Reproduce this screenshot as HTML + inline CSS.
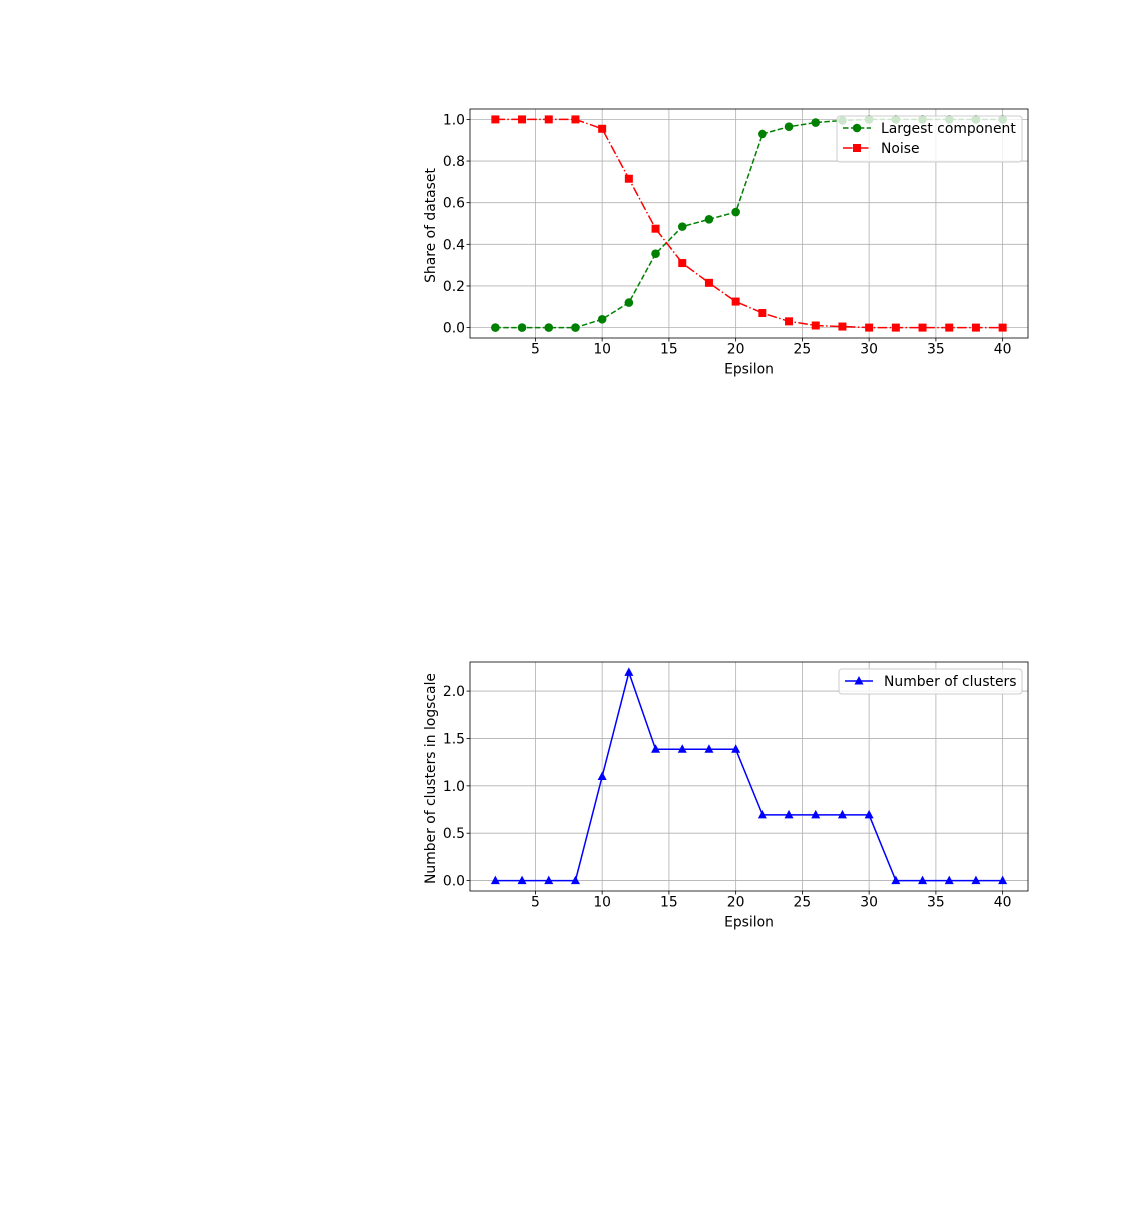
<!DOCTYPE html>
<html><head><meta charset="utf-8"><style>
html,body{margin:0;padding:0;background:#fff;}
svg text{font-family:"DejaVu Sans","Liberation Sans",sans-serif;font-size:13.9px;fill:#000;}
</style></head><body>
<svg id="s" width="1131" height="1216" xmlns="http://www.w3.org/2000/svg"></svg>
<script>
const epsilon=[2,4,6,8,10,12,14,16,18,20,22,24,26,28,30,32,34,36,38,40];
const largestComponent=[0,0,0,0,0.04,0.12,0.355,0.485,0.52,0.555,0.93,0.965,0.985,0.995,1,1,1,1,1,1];
const noise=[1,1,1,1,0.955,0.715,0.475,0.31,0.215,0.125,0.07,0.03,0.01,0.005,0,0,0,0,0,0];
const clustersLog=[0,0,0,0,1.0986,2.1972,1.3863,1.3863,1.3863,1.3863,0.6931,0.6931,0.6931,0.6931,0.6931,0,0,0,0,0];
const xTicks=[5,10,15,20,25,30,35,40];
const yTicks1=[0,0.2,0.4,0.6,0.8,1.0];
const yTicks2=[0,0.5,1.0,1.5,2.0];

const NS="http://www.w3.org/2000/svg";
const svg=document.getElementById('s');
function mk(tag,attrs,parent){const e=document.createElementNS(NS,tag);for(const k in attrs)e.setAttribute(k,attrs[k]);(parent||svg).appendChild(e);return e;}

function panel(top,name,ymin,ymax,yTicks,ylab){
  const L=470,R=1028,T=top,B=top+229;
  const g=mk('g',{});
  
  
  const x=v=>L+(v-0.1)/(41.9-0.1)*(R-L);
  const y=v=>B-(v-ymin)/(ymax-ymin)*(B-T);
  xTicks.forEach(t=>{
    const l=mk('line',{x1:x(t),x2:x(t),y1:T,y2:B,stroke:'#b0b0b0','stroke-width':0.8},g);
    
    
    mk('line',{x1:x(t),x2:x(t),y1:B,y2:B+3.5,stroke:'#000','stroke-width':0.8},g);
    const tx=mk('text',{x:x(t),y:B+15.5,'text-anchor':'middle'},g);tx.textContent=t;
    
    
  });
  yTicks.forEach(t=>{
    const l=mk('line',{x1:L,x2:R,y1:y(t),y2:y(t),stroke:'#b0b0b0','stroke-width':0.8},g);
    
    
    mk('line',{x1:L-3.5,x2:L,y1:y(t),y2:y(t),stroke:'#000','stroke-width':0.8},g);
    const tx=mk('text',{x:L-5,y:y(t)+5,'text-anchor':'end'},g);tx.textContent=t.toFixed(1);
    
    
  });
  const xl=mk('text',{x:(L+R)/2,y:B+35.5,'text-anchor':'middle'},g);xl.textContent='Epsilon';
  
  
  const yl=mk('text',{x:0,y:0,'text-anchor':'middle',transform:`translate(435,${(T+B)/2+2}) rotate(-90)`},g);yl.textContent=ylab;
  
  
  return {g,x,y,L,R,T,B};
}

function series(p,vals,color,dash,marker,name){
  const pts=vals.map((v,i)=>p.x(epsilon[i])+','+p.y(vals[i])).join(' ');
  const pl=mk('polyline',{points:pts,fill:'none',stroke:color,'stroke-width':1.5,'stroke-dasharray':dash},p.g);
  
  
  vals.forEach((v,i)=>{const m=drawMarker(p.g,p.x(epsilon[i]),p.y(v),color,marker);
    
    });
}
function drawMarker(g,cx,cy,color,type){
  if(type==='o')return mk('circle',{cx,cy,r:4.3,fill:color},g);
  if(type==='s')return mk('rect',{x:cx-4,y:cy-4,width:8,height:8,fill:color},g);
  return mk('polygon',{points:`${cx},${cy-5} ${cx-4.5},${cy+3.5} ${cx+4.5},${cy+3.5}`,fill:color},g);
}
function frame(p){mk('rect',{x:p.L,y:p.T,width:p.R-p.L,height:p.B-p.T,fill:'none',stroke:'#000','stroke-width':0.8},p.g);}

const p1=panel(109,'share-chart',-0.05,1.05,yTicks1,'Share of dataset');
series(p1,largestComponent,'green','5.5,2.4','o','largest-component');
series(p1,noise,'red','9.6,2.4,1.5,2.4','s','noise');
frame(p1);
let lg=mk('g',{});


mk('rect',{x:837,y:116,width:185,height:46,rx:3,fill:'#fff','fill-opacity':0.8,stroke:'#ccc'},lg);
mk('line',{x1:843,x2:871,y1:128,y2:128,stroke:'green','stroke-width':1.5,'stroke-dasharray':'5.5,2.4'},lg);
drawMarker(lg,857,128,'green','o');
let t=mk('text',{x:881,y:133},lg);t.textContent='Largest component';


mk('line',{x1:843,x2:871,y1:148,y2:148,stroke:'red','stroke-width':1.5,'stroke-dasharray':'9.6,2.4,1.5,2.4'},lg);
drawMarker(lg,857,148,'red','s');
t=mk('text',{x:881,y:153},lg);t.textContent='Noise';



const p2=panel(662,'clusters-chart',-0.11,2.307,yTicks2,'Number of clusters in logscale');
series(p2,clustersLog,'blue','none','^','number-of-clusters');
frame(p2);
lg=mk('g',{});


mk('rect',{x:839,y:669,width:183,height:25,rx:3,fill:'#fff','fill-opacity':0.8,stroke:'#ccc'},lg);
mk('line',{x1:845,x2:873,y1:681,y2:681,stroke:'blue','stroke-width':1.5},lg);
drawMarker(lg,859,681,'blue','^');
t=mk('text',{x:884,y:686},lg);t.textContent='Number of clusters';


</script>
</body></html>
